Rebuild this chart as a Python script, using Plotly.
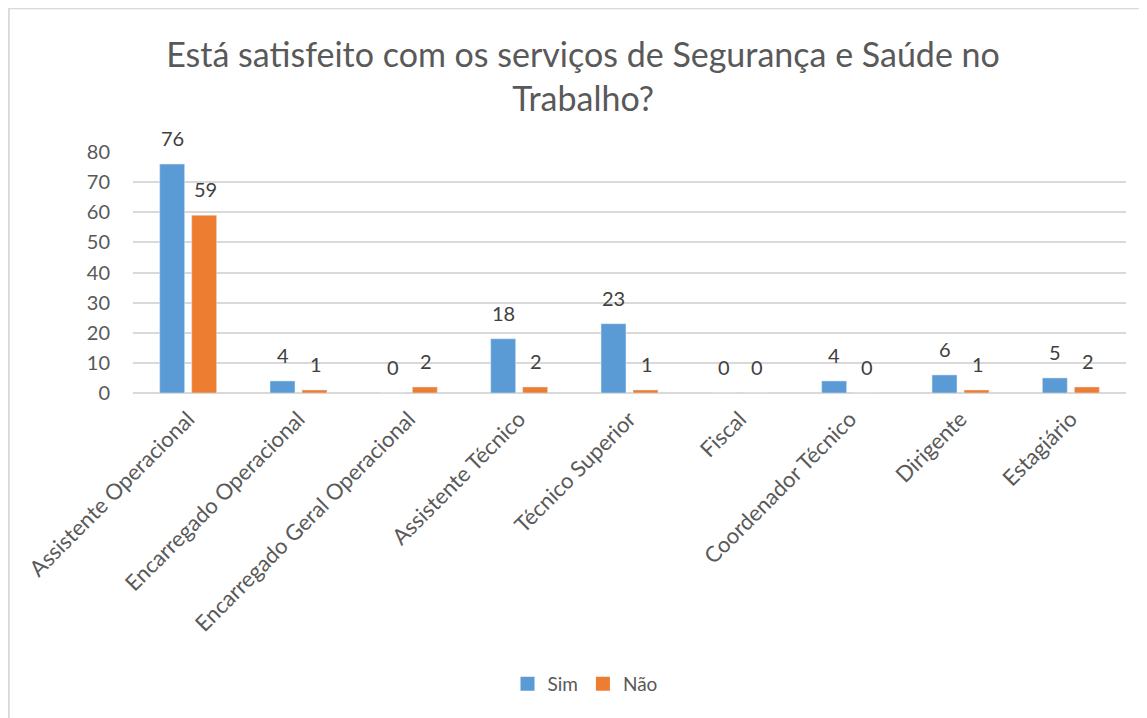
import plotly.graph_objects as go

categories = ["Assistente Operacional", "Encarregado Operacional", "Encarregado Geral Operacional",
              "Assistente Técnico", "Técnico Superior", "Fiscal", "Coordenador Técnico",
              "Dirigente", "Estagiário"]
sim = [76, 4, 0, 18, 23, 0, 4, 6, 5]
nao = [59, 1, 2, 2, 1, 0, 0, 1, 2]
y_ticks = [0, 10, 20, 30, 40, 50, 60, 70, 80]
series_names = ["Sim", "Não"]
series_colors = ["#5B9BD5", "#ED7D31"]

FONT = "Lato"
GRAY = "#595959"
W, H = 1139, 710
L, R, T, B = 125, 21, 144, 325
pw = W - L - R
ph = H - T - B

fig = go.Figure()
for name, vals, col in zip(series_names, (sim, nao), series_colors):
    fig.add_trace(go.Bar(name=name, x=categories, y=vals, marker_color=col,
                         showlegend=False))
for name, col in zip(series_names, series_colors):
    fig.add_trace(go.Scatter(name=name, x=[None], y=[None], mode="markers",
                             marker=dict(symbol="square", size=14, color=col),
                             showlegend=True))

annotations = []
for vals, shift in ((sim, -16), (nao, 17)):
    for c, v in zip(categories, vals):
        annotations.append(dict(x=c, y=v, text=str(v), showarrow=False, xshift=shift,
                                yanchor="bottom", yshift=12,
                                font=dict(family=FONT, size=20, color="#404040")))

fig.add_shape(type="rect", xref="paper", yref="paper",
              x0=(0.8 - L) / pw, x1=(W + 60 - L) / pw,
              y0=-(H + 60 - T - ph) / ph, y1=1 + (T - 0.2) / ph,
              line=dict(color="#D9D9D9", width=2), fillcolor="rgba(0,0,0,0)", layer="below")

fig.update_layout(
    width=W, height=H,
    margin=dict(l=L, r=R, t=T, b=B),
    paper_bgcolor="white", plot_bgcolor="white",
    barmode="group", bargap=0.42, bargroupgap=0.22,
    font=dict(family=FONT, color=GRAY),
    title=dict(text="Está satisfeito com os serviços de Segurança e Saúde no<br>Trabalho?",
               x=575 / W, xanchor="center", y=1 - 58.5 / H, yanchor="middle",
               font=dict(family=FONT, size=34, color=GRAY)),
    xaxis=dict(tickangle=-45, tickfont=dict(size=22, color=GRAY), showline=False,
               ticks="", showgrid=False, ticklabelstandoff=8),
    yaxis=dict(range=[0, 80], tickvals=y_ticks, showgrid=True, gridcolor="#D9D9D9",
               gridwidth=1.5, zeroline=True, zerolinecolor="#D9D9D9", zerolinewidth=1.5,
               tickfont=dict(size=20, color=GRAY), ticks="", ticklabelstandoff=22),
    legend=dict(orientation="h", x=(577 - L) / pw, xanchor="center", y=-(676 - T - ph) / ph,
                yanchor="middle", font=dict(size=19, color=GRAY), itemwidth=30,
                tracegroupgap=0),
    annotations=annotations,
)

fig.write_html("out.html")
